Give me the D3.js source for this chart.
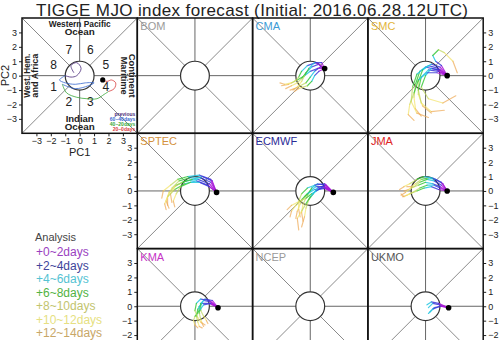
<!DOCTYPE html>
<html><head><meta charset="utf-8">
<script src="https://cdn.jsdelivr.net/npm/d3@7"></script>
<style>body{margin:0;background:#fff}svg{display:block}text{font-family:"Liberation Sans",Arial,sans-serif}</style>
</head><body><svg id="c" width="500" height="340"></svg>
<script>
// ---------------- DATA ----------------
const titleText = "TIGGE MJO index forecast (Initial: 2016.06.28.12UTC)";
const modelNames = ["BOM","CMA","SMC","SPTEC","ECMWF","JMA","KMA","NCEP","UKMO"];
const modelColors = ["#9a9a9a","#3c9bd6","#e3b53a","#d4913c","#2a2a96","#e02424","#c635c6","#9a9a9a","#555555"];
const tickValues = [-3,-2,-1,0,1,2,3];
const leadLabels = ["+0~2days","+2~4days","+4~6days","+6~8days","+8~10days","+10~12days","+12~14days"];
const leadTextColors = ["#9a3fbf","#41459a","#55c3d3","#52b343","#c2c46e","#e6df82","#c8a767"];
const leadLineColors = ["#a818d8","#3a3ad8","#22c6e0","#3cc83c","#bcd65a","#f2e266","#eeaa55"];
const phaseNames = ["1","2","3","4","5","6","7","8"];
const histLabels = ["previous","60~40days","40~20days","20~0days"];
const histColors = ["#4a2a7a","#3a6ad0","#3aa83a","#d84040"];

// analysis history (phase diagram)
const histPrevious = [[-0.4,0.2],[-0.6,0.7],[-0.2,0.9],[0.1,0.5],[-0.2,0.0],[-0.6,-0.1],[-1.0,0.0]];
const hist60to40 = [[-1.0,0.0],[-1.4,-0.3],[-1.0,-0.5],[-0.3,-0.6],[0.4,-0.5],[1.0,-0.5],[0.6,-0.7],[-0.3,-0.9],[-1.2,-0.6]];
const hist40to20 = [[-1.2,-0.6],[-0.9,-1.2],[-0.2,-1.5],[0.5,-1.6],[1.2,-1.6],[1.7,-1.3],[2.0,-1.1]];
const hist20to0 = [[2.0,-1.1],[2.4,-0.9],[2.5,-0.5],[2.2,-0.3],[1.9,-0.4],[1.6,-0.3]];

// ensemble members, points every 2 days (day 0 .. day 14)
const bomMembers = [];
const cmaMembers = [
 [[1.0,0.5],[0.6,0.8],[0.1,0.6],[-0.3,0.2],[-0.6,-0.2],[-0.9,-0.5],[-1.3,-0.7],[-1.7,-0.9]],
 [[1.0,0.5],[0.4,0.9],[-0.2,0.7],[-0.6,0.3],[-0.8,-0.1],[-1.1,-0.4],[-1.5,-0.6],[-2.0,-0.7]],
 [[1.0,0.5],[0.7,0.6],[0.3,0.3],[0.0,-0.1],[-0.3,-0.5],[-0.7,-0.7],[-1.1,-0.9],[-1.4,-1.0]],
 [[1.0,0.5],[0.5,0.5],[0.0,0.3],[-0.4,0.0],[-0.9,-0.3],[-1.3,-0.5],[-1.8,-0.6],[-2.1,-0.5]],
 [[1.0,0.5],[0.8,0.9],[0.3,0.9],[-0.1,0.5],[-0.4,0.0],[-0.6,-0.4],[-0.9,-0.8],[-1.2,-1.0]],
 [[1.0,0.5],[0.6,0.3],[0.3,0.0],[0.1,-0.4],[-0.2,-0.7],[-0.5,-0.8],[-0.8,-0.9],[-1.1,-1.1]]
];
const smcMembers = [
 [[1.5,0],[0.9,0.5],[0.2,0.7],[-0.4,0.3],[-0.7,-0.6],[-0.8,-1.5],[-0.7,-2.3],[-0.3,-2.8]],
 [[1.5,0],[0.8,0.4],[0.0,0.6],[-0.6,0.1],[-0.9,-0.8],[-1.0,-1.8],[-0.6,-2.6],[0.2,-2.9]],
 [[1.5,0],[1.0,0.6],[0.4,0.8],[-0.2,0.4],[-0.5,-0.4],[-0.5,-1.3],[-0.2,-2.1],[0.4,-2.6]],
 [[1.5,0],[0.9,0.3],[0.2,0.4],[-0.3,-0.1],[-0.5,-1.0],[-0.3,-1.9],[0.4,-2.5],[1.3,-2.4]],
 [[1.5,0],[1.0,0.4],[0.4,0.5],[0.0,0.0],[-0.3,-0.8],[0.2,-1.6],[1.2,-1.9],[2.1,-1.4]],
 [[1.5,0],[1.1,0.7],[0.7,1.0],[0.5,1.4],[0.9,1.8],[1.3,1.6],[1.9,1.0],[2.2,0.2]],
 [[1.5,0],[0.8,0.2],[0.1,0.2],[-0.5,-0.3],[-0.8,-1.2],[-1.1,-2.0],[-1.2,-2.7],[-0.8,-3.1]]
];
const sptecMembers = [
 [[1.5,-0.1],[1.1,0.6],[0.4,0.9],[-0.4,0.9],[-1.1,0.7],[-1.6,0.2],[-1.9,-0.4],[-1.9,-1.0]],
 [[1.5,-0.1],[1.0,0.5],[0.2,0.8],[-0.6,0.7],[-1.3,0.4],[-1.8,-0.1],[-2.0,-0.7],[-1.8,-1.2]],
 [[1.5,-0.1],[1.2,0.7],[0.5,1.0],[-0.2,0.8],[-0.9,0.6],[-1.4,0.3],[-1.7,-0.2],[-1.6,-0.8]],
 [[1.5,-0.1],[0.9,0.4],[0.1,0.7],[-0.7,0.5],[-1.4,0.1],[-1.9,-0.4],[-2.1,-0.9],[-2.0,-1.3]],
 [[1.5,-0.1],[1.1,0.8],[0.3,1.1],[-0.5,1.0],[-1.2,0.8],[-1.7,0.4],[-2.2,0.0],[-2.3,-0.5]],
 [[1.5,-0.1],[1.0,0.3],[0.3,0.6],[-0.3,0.6],[-1.0,0.3],[-1.3,-0.2],[-1.5,-0.7],[-1.4,-1.1]]
];
const ecmwfMembers = [
 [[1.6,-0.1],[1.0,0.3],[0.4,0.3],[0.0,0.0],[-0.4,-0.4],[-0.7,-0.9],[-0.9,-1.4],[-1.0,-1.9]],
 [[1.6,-0.1],[1.1,0.4],[0.5,0.5],[0.1,0.2],[-0.2,-0.3],[-0.5,-0.9],[-0.6,-1.5],[-0.5,-2.1]],
 [[1.6,-0.1],[0.9,0.2],[0.3,0.1],[-0.2,-0.2],[-0.6,-0.6],[-1.0,-1.0],[-1.3,-1.4],[-1.4,-1.8]],
 [[1.6,-0.1],[1.0,0.4],[0.5,0.2],[0.2,-0.2],[-0.1,-0.6],[-0.3,-1.2],[-0.4,-1.8],[-0.6,-2.5]],
 [[1.6,-0.1],[1.1,0.2],[0.6,0.1],[0.1,-0.2],[-0.3,-0.5],[-0.9,-0.8],[-1.3,-1.0],[-1.6,-1.3]],
 [[1.6,-0.1],[1.0,0.5],[0.3,0.4],[-0.2,0.2],[-0.6,-0.2],[-0.8,-0.7],[-0.8,-1.3],[-0.7,-1.8]],
 [[1.6,-0.1],[0.9,0.3],[0.4,0.0],[0.0,-0.4],[-0.3,-0.9],[-0.6,-1.4],[-0.9,-1.9],[-0.8,-2.7]]
];
const jmaMembers = [
 [[1.5,0],[1.1,0.4],[0.6,0.7],[0.1,0.8],[-0.4,0.6],[-0.8,0.3],[-1.2,0.1],[-1.5,0.0]],
 [[1.5,0],[1.0,0.3],[0.5,0.5],[0.0,0.6],[-0.5,0.4],[-1.0,0.2],[-1.4,-0.1],[-1.7,-0.3]],
 [[1.5,0],[1.2,0.5],[0.7,0.8],[0.2,0.9],[-0.3,0.8],[-0.7,0.5],[-1.0,0.3],[-1.3,0.3]],
 [[1.5,0],[1.0,0.2],[0.6,0.4],[0.1,0.4],[-0.4,0.2],[-0.9,-0.1],[-1.3,-0.3],[-1.6,-0.4]],
 [[1.5,0],[1.1,0.6],[0.5,0.9],[-0.1,1.0],[-0.6,0.8],[-1.1,0.5],[-1.5,0.3],[-1.8,0.1]],
 [[1.5,0],[0.9,0.1],[0.4,0.3],[-0.1,0.2],[-0.6,0.0],[-1.1,-0.2],[-1.5,-0.4],[-1.7,-0.2]]
];
const kmaMembers = [
 [[1.6,-0.1],[1.1,0.3],[0.6,0.4],[0.3,0.0],[0.3,-0.5],[0.4,-0.9],[0.5,-1.2],[0.6,-1.4]],
 [[1.6,-0.1],[1.0,0.2],[0.5,0.2],[0.2,-0.2],[0.1,-0.7],[0.2,-1.1],[0.3,-1.4],[0.5,-1.5]],
 [[1.6,-0.1],[1.2,0.4],[0.7,0.5],[0.4,0.2],[0.4,-0.3],[0.6,-0.7],[0.8,-1.0],[0.9,-1.2]],
 [[1.6,-0.1],[1.1,0.2],[0.6,0.1],[0.3,-0.3],[0.0,-0.7],[-0.1,-1.0],[0.0,-1.3],[0.2,-1.5]],
 [[1.6,-0.1],[1.0,0.4],[0.4,0.5],[0.1,0.2],[0.0,-0.3],[0.2,-0.8],[0.4,-1.1],[0.7,-1.3]]
];
const ncepMembers = [];
const ukmoMembers = [
 [[1.6,-0.1],[1.0,0.1],[0.5,0.2],[0.2,-0.1]],
 [[1.6,-0.1],[1.1,0.0],[0.6,-0.1],[0.3,-0.4]],
 [[1.6,-0.1],[0.9,0.2],[0.4,0.3],[0.1,0.1]],
 [[1.6,-0.1],[1.0,0.0],[0.5,-0.2],[0.2,-0.5]]
];
const modelMembers = [bomMembers,cmaMembers,smcMembers,sptecMembers,ecmwfMembers,jmaMembers,kmaMembers,ncepMembers,ukmoMembers];

// ---------------- LAYOUT ----------------
const svg = d3.select("#c");
svg.append("rect").attr("width",500).attr("height",340).attr("fill","#fff");
const colX = [22, 137.3, 252.6, 367.9];
const rowY = [18, 133.3, 248.6];
const P = 115.3;

svg.append("text").attr("x",36).attr("y",15.5).attr("font-size",17).attr("fill","#222")
  .attr("textLength",432).attr("lengthAdjust","spacing").text(titleText);

function panelScales(px, py){
  return {x: d3.scaleLinear().domain([-4,4]).range([px, px+P]),
          y: d3.scaleLinear().domain([-4,4]).range([py+P, py])};
}

function drawFrame(g, s){
  const cx = s.x(0), cy = s.y(0), r = s.x(1)-s.x(0);
  const ang = d3.range(8).map(i=>i*Math.PI/4);
  g.selectAll("line.grid").data(ang).join("line").attr("class","grid")
    .attr("x1",a=>s.x(Math.cos(a))).attr("y1",a=>s.y(Math.sin(a)))
    .attr("x2",a=>{const t=4/Math.max(Math.abs(Math.cos(a)),Math.abs(Math.sin(a)));return s.x(t*Math.cos(a));})
    .attr("y2",a=>{const t=4/Math.max(Math.abs(Math.cos(a)),Math.abs(Math.sin(a)));return s.y(t*Math.sin(a));})
    .attr("stroke",(a,i)=>i%2? "#8a8a8a":"#666").attr("stroke-width",1);
  g.append("circle").attr("cx",cx).attr("cy",cy).attr("r",r)
    .attr("fill","none").attr("stroke","#333").attr("stroke-width",1.2);
}

function drawTraj(g, s, members){
  members.forEach(m=>{
    for(let i=0;i<m.length-1;i++){
      g.append("line").attr("x1",s.x(m[i][0])).attr("y1",s.y(m[i][1]))
        .attr("x2",s.x(m[i+1][0])).attr("y2",s.y(m[i+1][1]))
        .attr("stroke",leadLineColors[i]).attr("stroke-width",1.2)
        .attr("stroke-opacity", i<4?0.85:0.7).attr("stroke-linecap","round");
    }
  });
  if(members.length){
    const st = members[0][0];
    g.append("circle").attr("cx",s.x(st[0])).attr("cy",s.y(st[1])).attr("r",2.8).attr("fill","#000");
  }
}

function axisStyle(sel){
  sel.selectAll("path").attr("stroke","none");
  sel.selectAll("line").attr("stroke","#222");
  sel.selectAll("text").attr("font-size",9).attr("fill","#222");
}

// ---------- phase diagram panel ----------
(function(){
  const s = panelScales(colX[0], rowY[0]);
  const g = svg.append("g");
  drawFrame(g, s);
  svg.append("defs").append("clipPath").attr("id","clip0").append("rect")
    .attr("x",colX[0]).attr("y",rowY[0]).attr("width",P).attr("height",P);
  g.selectAll("text.ph").data(phaseNames).join("text").attr("class","ph")
    .attr("x",(d,i)=>s.x(1.96*Math.cos((202.5+45*i)*Math.PI/180)))
    .attr("y",(d,i)=>s.y(1.96*Math.sin((202.5+45*i)*Math.PI/180))+4.5)
    .attr("text-anchor","middle").attr("font-size",12).attr("fill","#222").text(d=>d);
  const cx = s.x(0);
  const lab = (x,y,t,rot,len)=>{
    const tx = g.append("text").attr("transform",`translate(${x},${y}) rotate(${rot})`)
      .attr("text-anchor","middle").attr("font-size",8.5).attr("font-weight","bold").attr("fill","#222").text(t);
    if(len) tx.attr("textLength",len).attr("lengthAdjust","spacingAndGlyphs");
  };
  lab(cx, rowY[0]+9, "Western Pacific", 0, 62);
  lab(cx, rowY[0]+17, "Ocean", 0, 30);
  lab(cx, rowY[0]+P-11, "Indian", 0, 28);
  lab(cx, rowY[0]+P-3, "Ocean", 0, 30);
  lab(colX[0]+8, s.y(0), "West. Hem.", -90, 44);
  lab(colX[0]+16, s.y(0), "and Africa", -90, 44);
  lab(colX[0]+P-16, s.y(0), "Maritime", 90, 38);
  lab(colX[0]+P-8, s.y(0), "Continent", 90, 44);
  const tg = g.append("g").attr("clip-path","url(#clip0)");
  [histPrevious,hist60to40,hist40to20,hist20to0].forEach((seg,k)=>{
    tg.append("path").attr("d",d3.line().x(d=>s.x(d[0])).y(d=>s.y(d[1])).curve(d3.curveCatmullRom)(seg))
      .attr("fill","none").attr("stroke",histColors[k]).attr("stroke-width",1).attr("stroke-opacity",0.8);
  });
  const last = hist20to0[hist20to0.length-1];
  tg.append("circle").attr("cx",s.x(last[0])).attr("cy",s.y(last[1])).attr("r",2.6).attr("fill","#000");
  g.selectAll("text.hl").data(histLabels).join("text").attr("class","hl")
    .attr("x",colX[0]+P-2).attr("y",(d,i)=>rowY[0]+P-17+i*4.8)
    .attr("text-anchor","end").attr("font-size",5).attr("font-weight","bold")
    .attr("fill",(d,i)=>histColors[i]).text(d=>d);
  const ax = svg.append("g").attr("transform",`translate(${colX[0]},0)`)
    .call(d3.axisLeft(s.y).tickValues(tickValues).tickSize(3).tickPadding(2));
  axisStyle(ax);
  const bx = svg.append("g").attr("transform",`translate(0,${rowY[0]+P})`)
    .call(d3.axisBottom(s.x).tickValues(tickValues).tickSize(3).tickPadding(1));
  axisStyle(bx);
  svg.append("text").attr("x",s.x(0)).attr("y",rowY[0]+P+23).attr("text-anchor","middle")
    .attr("font-size",11).attr("fill","#222").text("PC1");
  svg.append("text").attr("transform",`translate(9,${s.y(0)}) rotate(-90)`).attr("text-anchor","middle")
    .attr("font-size",11).attr("fill","#222").text("PC2");
  svg.append("rect").attr("x",colX[0]).attr("y",rowY[0]).attr("width",P).attr("height",P)
    .attr("fill","none").attr("stroke","#111").attr("stroke-width",1.5);
})();

// ---------- model panels ----------
modelNames.forEach((name,i)=>{
  const col = 1 + (i%3), row = Math.floor(i/3);
  const px = colX[col], py = rowY[row];
  const s = panelScales(px, py);
  svg.append("defs").append("clipPath").attr("id","clipm"+i).append("rect")
    .attr("x",px).attr("y",py).attr("width",P).attr("height",P);
  const g = svg.append("g").attr("clip-path",`url(#clipm${i})`);
  drawFrame(g, s);
  drawTraj(g, s, modelMembers[i]);
  g.append("text").attr("x",px+3).attr("y",py+12).attr("font-size",11)
    .attr("fill",modelColors[i]).text(name);
  if(col===1 && row>0){
    const ax = svg.append("g").attr("transform",`translate(${px},0)`)
      .call(d3.axisLeft(s.y).tickValues(tickValues).tickSize(3).tickPadding(2));
    axisStyle(ax);
  }
  if(col===3){
    const ax = svg.append("g").attr("transform",`translate(${px+P},0)`)
      .call(d3.axisRight(s.y).tickValues(tickValues).tickSize(3).tickPadding(2));
    axisStyle(ax);
  }
});
modelNames.forEach((name,i)=>{
  const col = 1 + (i%3), row = Math.floor(i/3);
  svg.append("rect").attr("x",colX[col]).attr("y",rowY[row]).attr("width",P).attr("height",P)
    .attr("fill","none").attr("stroke","#111").attr("stroke-width",1.5);
});

// ---------- lead-time legend ----------
svg.append("text").attr("x",35).attr("y",241).attr("font-size",11).attr("fill","#444").text("Analysis");
svg.selectAll("text.lead").data(leadLabels).join("text").attr("class","lead")
  .attr("x",36).attr("y",(d,i)=>256+i*13.5).attr("font-size",12)
  .attr("fill",(d,i)=>leadTextColors[i]).text(d=>d);
</script></body></html>
